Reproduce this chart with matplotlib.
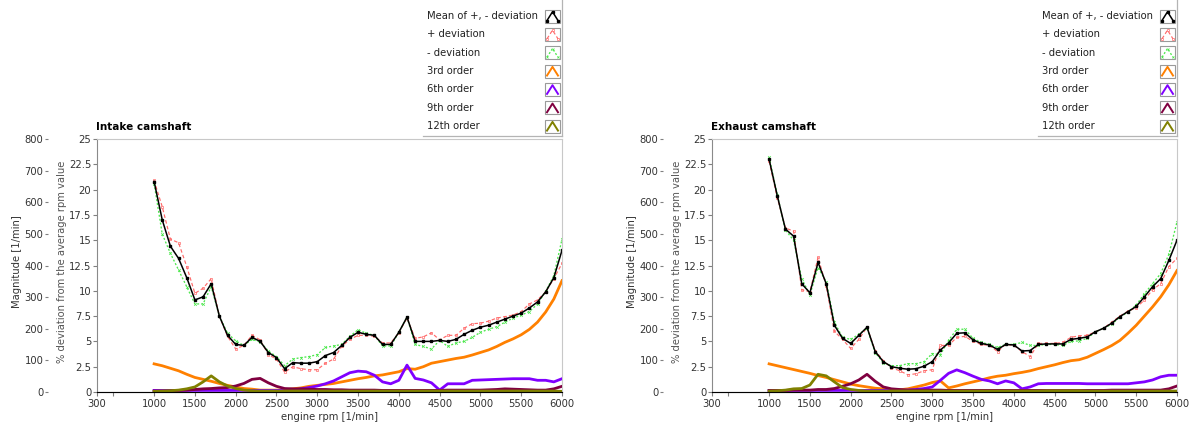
import matplotlib.pyplot as plt
from matplotlib.patches import Rectangle

plt.rcParams['font.family'] = ['DejaVu Sans']
plt.rcParams['font.size'] = 7.2

# engine speed grid [1/min]
rpm = [1000, 1100, 1200, 1300, 1400, 1500, 1600, 1700, 1800, 1900,
       2000, 2100, 2200, 2300, 2400, 2500, 2600, 2700, 2800, 2900,
       3000, 3100, 3200, 3300, 3400, 3500, 3600, 3700, 3800, 3900,
       4000, 4100, 4200, 4300, 4400, 4500, 4600, 4700, 4800, 4900,
       5000, 5100, 5200, 5300, 5400, 5500, 5600, 5700, 5800, 5900,
       6000]

# intake camshaft: % deviation from the average rpm value
intake_mean = [20.8, 17.0, 14.4, 13.2, 11.3, 9.1, 9.4, 10.7, 7.5, 5.6,
               4.7, 4.6, 5.4, 5.0, 3.9, 3.4, 2.3, 2.9, 2.85, 2.85,
               3.0, 3.6, 3.9, 4.6, 5.4, 5.9, 5.7, 5.6, 4.7, 4.7,
               5.9, 7.4, 5.0, 5.0, 5.0, 5.1, 5.0, 5.2, 5.7, 6.1,
               6.4, 6.6, 6.9, 7.2, 7.5, 7.8, 8.3, 8.9, 9.9, 11.3,
               14.0]
intake_plus = [20.9, 18.3, 15.1, 14.75, 12.4, 9.75, 10.25, 11.2, 7.5, 5.5,
               4.25, 4.6, 5.6, 5.15, 3.7, 3.25, 1.95, 2.5, 2.3, 2.2,
               2.2, 2.85, 3.25, 4.5, 5.2, 5.6, 5.6, 5.5, 4.85, 4.85,
               5.85, 7.3, 5.3, 5.45, 5.85, 5.15, 5.6, 5.6, 6.3, 6.75,
               6.8, 7.0, 7.3, 7.45, 7.6, 7.95, 8.7, 9.1, 9.9, 11.2,
               12.7]
intake_minus = [20.6, 15.6, 13.7, 12.05, 10.4, 8.7, 8.7, 10.4, 7.5, 5.8,
                5.05, 4.6, 5.2, 4.95, 4.05, 3.5, 2.6, 3.25, 3.4, 3.5,
                3.7, 4.4, 4.55, 4.7, 5.5, 6.15, 5.8, 5.6, 4.55, 4.55,
                5.9, 7.4, 4.7, 4.5, 4.25, 5.1, 4.5, 4.85, 5.0, 5.4,
                5.9, 6.2, 6.45, 6.9, 7.3, 7.6, 7.95, 8.7, 9.95, 11.5,
                15.1]

# intake camshaft: order magnitudes [1/min]
intake_3rd = [89, 83, 75, 67, 56, 46, 40, 34, 27, 21,
              16, 11, 9, 6, 6, 6, 7, 10, 13, 18,
              21, 24, 27, 32, 37, 42, 46, 51, 54, 59,
              64, 74, 72, 80, 91, 96, 101, 106, 110, 117,
              125, 133, 144, 157, 168, 181, 198, 221, 253, 294,
              352]
intake_6th = [5, 5, 5, 5, 5, 5, 5, 5, 5, 5,
              5, 5, 5, 5, 5, 5, 5, 6, 10, 14,
              19, 26, 35, 48, 61, 66, 64, 53, 32, 26,
              37, 85, 43, 38, 29, 6, 26, 26, 26, 37,
              38, 39, 40, 41, 42, 42, 42, 37, 37, 32,
              42]
intake_9th = [3, 3, 4, 5, 6, 8, 10, 11, 13, 14,
              19, 27, 40, 43, 29, 18, 11, 10, 10, 9,
              8, 8, 7, 7, 6, 6, 6, 6, 5, 5,
              5, 5, 5, 5, 5, 5, 6, 6, 6, 6,
              6, 7, 8, 10, 9, 8, 7, 6, 6, 10,
              18]
intake_12th = [2, 3, 4, 6, 10, 16, 32, 51, 32, 19,
               11, 6, 4, 3, 3, 3, 3, 3, 3, 3,
               3, 3, 3, 3, 3, 3, 3, 3, 3, 3,
               3, 3, 3, 3, 3, 3, 3, 3, 3, 3,
               3, 3, 3, 3, 3, 3, 3, 3, 3, 3,
               2]

# exhaust camshaft: % deviation from the average rpm value
exhaust_mean = [23.0, 19.4, 16.1, 15.4, 10.7, 9.8, 12.8, 10.7, 6.6, 5.3,
                4.8, 5.6, 6.4, 4.0, 3.0, 2.5, 2.35, 2.25, 2.3, 2.55,
                3.0, 4.15, 4.85, 5.8, 5.85, 5.15, 4.8, 4.65, 4.2, 4.7,
                4.65, 4.05, 4.1, 4.7, 4.75, 4.75, 4.75, 5.2, 5.3, 5.45,
                5.95, 6.3, 6.8, 7.45, 7.95, 8.45, 9.4, 10.4, 11.2, 13.0,
                15.0]
exhaust_plus = [22.8, 19.2, 16.2, 15.9, 10.1, 9.9, 13.3, 10.5, 6.0, 5.2,
                4.3, 5.2, 6.4, 4.1, 3.1, 2.4, 2.1, 1.7, 1.8, 2.1,
                2.2, 4.6, 4.6, 5.4, 5.5, 5.0, 4.7, 4.6, 4.0, 4.7,
                4.6, 4.0, 3.5, 4.8, 4.8, 4.8, 4.9, 5.4, 5.55, 5.6,
                5.95, 6.3, 6.9, 7.5, 8.0, 8.3, 9.1, 10.1, 10.7, 12.4,
                13.2]
exhaust_minus = [23.2, 19.5, 16.0, 15.0, 11.2, 9.6, 12.3, 10.9, 6.9, 5.4,
                 5.2, 5.7, 6.3, 3.9, 2.9, 2.6, 2.6, 2.8, 2.8, 3.0,
                 3.8, 3.7, 5.1, 6.2, 6.2, 5.3, 4.9, 4.7, 4.4, 4.7,
                 4.7, 4.9, 4.6, 4.6, 4.7, 4.7, 4.6, 5.0, 5.05, 5.3,
                 5.95, 6.3, 6.7, 7.4, 7.9, 8.6, 9.7, 10.7, 11.7, 13.6,
                 16.8]

# exhaust camshaft: order magnitudes [1/min]
exhaust_3rd = [89, 83, 77, 71, 65, 59, 52, 46, 39, 32,
               25, 20, 16, 12, 10, 8, 7, 10, 16, 22,
               30, 35, 13, 19, 26, 32, 38, 45, 50, 53,
               58, 62, 67, 74, 80, 86, 93, 99, 102, 110,
               122, 134, 147, 163, 186, 211, 240, 269, 301, 339,
               384]
exhaust_6th = [5, 5, 5, 5, 5, 5, 5, 5, 5, 5,
               5, 5, 5, 5, 5, 5, 5, 6, 8, 11,
               16, 37, 59, 70, 61, 50, 40, 35, 26, 35,
               29, 10, 16, 26, 27, 27, 27, 27, 27, 26,
               26, 26, 26, 26, 26, 29, 32, 38, 48, 53,
               53]
exhaust_9th = [5, 5, 5, 6, 6, 6, 8, 8, 11, 18,
               26, 38, 56, 34, 16, 10, 8, 6, 6, 6,
               6, 6, 5, 5, 5, 5, 5, 5, 5, 5,
               5, 5, 5, 5, 5, 5, 5, 5, 5, 5,
               5, 5, 6, 6, 6, 6, 6, 6, 6, 10,
               19]
exhaust_12th = [3, 4, 6, 10, 11, 22, 56, 51, 32, 14,
                8, 5, 3, 3, 3, 3, 3, 3, 3, 3,
                3, 3, 3, 3, 3, 3, 3, 3, 3, 3,
                3, 3, 3, 3, 4, 4, 4, 4, 4, 3,
                3, 3, 3, 3, 3, 3, 3, 3, 3, 3,
                3]

legend_labels = ['Mean of +, - deviation', '+ deviation', '- deviation',
                 '3rd order', '6th order', '9th order', '12th order']

pct_ticks = [0, 2.5, 5, 7.5, 10, 12.5, 15, 17.5, 20, 22.5, 25]
mag_ticks = [0, 100, 200, 300, 400, 500, 600, 700, 800]
rpm_ticks = [300, 500, 1000, 1500, 2000, 2500, 3000, 3500, 4000, 4500, 5000, 5500, 6000]

styles = [
    dict(color='black', lw=1.1, marker='s', ms=1.8),
    dict(color='#ff6a6a', lw=0.85, ls=(0, (3, 2)), marker='s', ms=2.0, mfc='none', mew=0.5),
    dict(color='#4ee84e', lw=0.95, ls=(0, (1.5, 1.5)), marker='x', ms=2.0, mew=0.5),
    dict(color='#ff8000', lw=2.0),
    dict(color='#8000ff', lw=2.0),
    dict(color='#800040', lw=2.0),
    dict(color='#808000', lw=2.0),
]

W, H = 1193, 428
fig = plt.figure(figsize=(W / 100, H / 100), dpi=100)

# pixel-unit overlay for titles, legends and axis labels
over = fig.add_axes([0, 0, 1, 1])
over.set_xlim(0, W)
over.set_ylim(H, 0)
over.axis('off')

TXT = '#333333'


def draw_panel(x0, title, mean, plus, minus, orders):
    ax = fig.add_axes([x0 / W, (H - 392) / H, 465 / W, 253 / H])
    ax.plot(rpm, plus, **styles[1])
    ax.plot(rpm, minus, **styles[2])
    ax.plot(rpm, mean, **styles[0])
    ax.set_xlim(300, 6000)
    ax.set_ylim(0, 25)
    ax.set_xticks(rpm_ticks)
    ax.set_xticklabels(['300', ''] + [str(t) for t in rpm_ticks[2:]])
    ax.set_yticks(pct_ticks)
    ax.set_yticklabels([f'{t:g}' for t in pct_ticks])
    ax.tick_params(direction='out', length=3, width=0.8, color='#808080',
                   labelcolor=TXT, labelsize=7.2)
    ax.tick_params(axis='y', pad=1.2)
    ax.tick_params(axis='x', pad=2)
    for side in ('left', 'bottom'):
        ax.spines[side].set_color('#8a8a8a')
    for side in ('top', 'right'):
        ax.spines[side].set_color('#c8c8c8')
    ax.set_xlabel('engine rpm [1/min]', color=TXT, labelpad=2)

    mag = ax.twinx()
    for vals, st in zip(orders, styles[3:]):
        mag.plot(rpm, vals, **st)
    mag.set_ylim(0, 800)
    mag.set_yticks(mag_ticks)
    mag.yaxis.set_ticks_position('left')
    mag.spines['left'].set_position(('outward', 35.3))
    mag.spines['left'].set_visible(False)
    mag.spines['right'].set_visible(False)
    mag.spines['top'].set_visible(False)
    mag.tick_params(direction='out', length=2.5, width=0.8, color='#808080',
                    labelcolor=TXT, labelsize=7.2, pad=0.8)

    over.text(x0 - 80, 262, 'Magnitude [1/min]', rotation=90, ha='center',
              va='center', color=TXT)
    over.text(x0 - 35, 262, '% deviation from the average rpm value',
              rotation=90, ha='center', va='center', color='#555555')
    over.text(x0 - 1, 126.5, title, fontweight='bold', fontsize=7.5,
              ha='left', va='center', color='black')

    # legend block above the plot, right aligned
    for i, (label, st) in enumerate(zip(legend_labels, styles)):
        y = 16 + i * 18.35
        over.text(x0 + 330, y, label, ha='left', va='center', color='#222222')
        bx = x0 + 448
        over.add_patch(Rectangle((bx, y - 6.5), 15, 13, facecolor='white',
                                 edgecolor='#9a9a9a', lw=0.8))
        icon = dict(st)
        icon['lw'] = min(icon['lw'], 1.4)
        if 'ms' in icon:
            icon['ms'] = 1.4
        over.plot([bx + 2, bx + 7.5, bx + 13], [y + 4.5, y - 4.2, y + 4.5], **icon)
    over.plot([x0 + 326, x0 + 464.5], [135.5, 135.5], color='#b4b4b4', lw=0.9)
    over.plot([x0 + 464.5, x0 + 464.5], [0, 135.5], color='#b4b4b4', lw=0.9)


draw_panel(97, 'Intake camshaft', intake_mean, intake_plus, intake_minus,
           [intake_3rd, intake_6th, intake_9th, intake_12th])
draw_panel(712, 'Exhaust camshaft', exhaust_mean, exhaust_plus, exhaust_minus,
           [exhaust_3rd, exhaust_6th, exhaust_9th, exhaust_12th])

fig.savefig('out.png', dpi=100)
